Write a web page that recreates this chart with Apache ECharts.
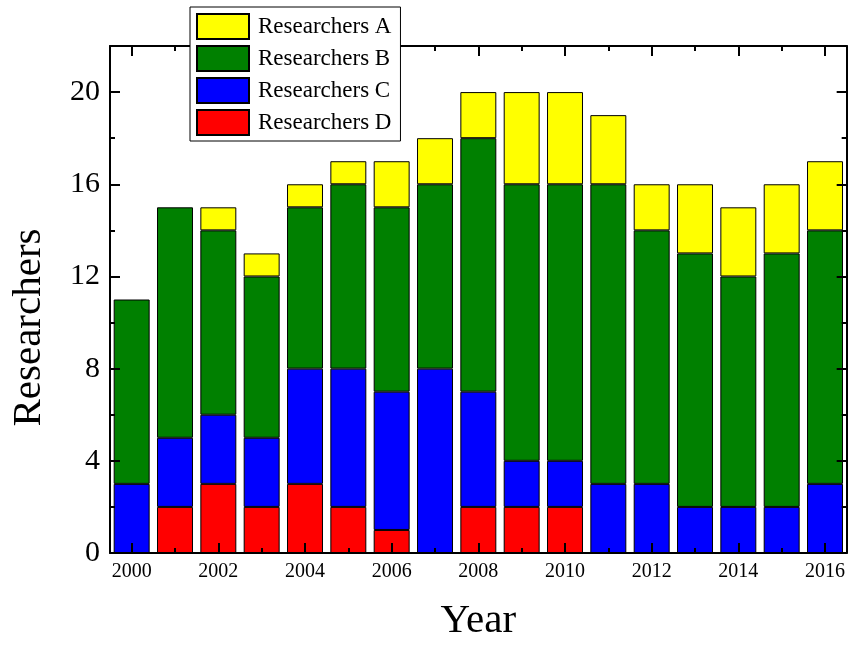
<!DOCTYPE html>
<html>
<head>
<meta charset="utf-8">
<script src="https://cdn.jsdelivr.net/npm/echarts@6/dist/echarts.min.js"></script>
<style>
  html, body { margin: 0; padding: 0; background: #fff; overflow: hidden; }
  #chart { width: 848px; height: 647px; }
</style>
</head>
<body>
<div id="chart"></div>
<script>
// Researchers per year, split by group (stacked from D at the bottom up to A)
const years = ['2000','2001','2002','2003','2004','2005','2006','2007','2008',
               '2009','2010','2011','2012','2013','2014','2015','2016'];
const researchersD = [0, 2, 3, 2, 3, 2, 1, 0, 2, 2, 2, 0, 0, 0, 0, 0, 0];
const researchersC = [3, 3, 3, 3, 5, 6, 6, 8, 5, 2, 2, 3, 3, 2, 2, 2, 3];
const researchersB = [8, 10, 8, 7, 7, 8, 8, 8, 11, 12, 12, 13, 11, 11, 10, 11, 11];
const researchersA = [0, 0, 1, 1, 1, 1, 2, 2, 2, 4, 4, 3, 2, 3, 3, 3, 3];
const legendOrder = ['Researchers A', 'Researchers B', 'Researchers C', 'Researchers D'];

const FONT = "'Liberation Serif', 'Times New Roman', serif";
const LINE = { color: '#000', width: 2 };

function catAxis(pos, major, withLabels) {
  return {
    type: 'category', position: pos, data: years, z: 5,
    boundaryGap: true,
    axisLine: { show: major, lineStyle: LINE, onZero: false },
    axisTick: {
      show: true, inside: true, alignWithLabel: true,
      length: major ? 10 : 5,
      interval: major ? 1 : 0,
      lineStyle: { color: '#000', width: 2 }
    },
    axisLabel: withLabels
      ? { show: true, interval: 1, fontFamily: FONT, fontSize: 20, color: '#000', margin: 9 }
      : { show: false },
    splitLine: { show: false }
  };
}

function valAxis(pos, major, withLabels) {
  return {
    type: 'value', position: pos, min: 0, max: 22, interval: major ? 4 : 2, z: 5,
    axisLine: { show: major, lineStyle: LINE, onZero: false },
    axisTick: { show: true, inside: true, length: major ? 10 : 5,
                lineStyle: { color: '#000', width: 2 } },
    axisLabel: withLabels
      ? { show: true, showMaxLabel: false, fontFamily: FONT, fontSize: 30, color: '#000', margin: 10 }
      : { show: false },
    splitLine: { show: false }
  };
}

const xBottom = catAxis('bottom', true, true);
xBottom.name = 'Year';
xBottom.nameLocation = 'middle';
xBottom.nameGap = 48;
xBottom.nameTextStyle = { fontFamily: FONT, fontSize: 41, color: '#000' };

const yLeft = valAxis('left', true, true);
yLeft.name = 'Researchers';
yLeft.nameLocation = 'middle';
yLeft.nameGap = 60;
yLeft.nameTextStyle = { fontFamily: FONT, fontSize: 41, color: '#000', padding: [0, 56, 0, 0] };

// Empty segments are left out so no zero-height outlines get drawn
function barSeries(name, values, color) {
  return {
    name, type: 'bar', stack: 'total',
    data: values.map(v => (v === 0 ? null : v)),
    xAxisIndex: 0, yAxisIndex: 0,
    barCategoryGap: '17%',
    itemStyle: { color, borderColor: '#000', borderWidth: 1 },
    emphasis: { disabled: true }
  };
}

const chart = echarts.init(document.getElementById('chart'), null, { renderer: 'canvas' });
chart.setOption({
  animation: false,
  backgroundColor: '#fff',
  grid: { left: 110, width: 737, top: 46, height: 519, containLabel: false },
  legend: {
    data: legendOrder,
    orient: 'vertical',
    left: 190, top: 7,
    z: 20,
    backgroundColor: '#fff',
    borderColor: '#000', borderWidth: 1,
    padding: [6, 9, 5, 6],
    itemWidth: 52, itemHeight: 25, itemGap: 5,
    icon: 'rect',
    selectedMode: false,
    textStyle: { fontFamily: FONT, fontSize: 23, color: '#000', padding: [0, 0, 0, 4] }
  },
  xAxis: [
    xBottom,
    catAxis('bottom', false, false),
    catAxis('top', true, false),
    catAxis('top', false, false)
  ],
  yAxis: [
    yLeft,
    valAxis('left', false, false),
    valAxis('right', true, false),
    valAxis('right', false, false)
  ],
  series: [
    barSeries('Researchers D', researchersD, '#FF0000'),
    barSeries('Researchers C', researchersC, '#0000FF'),
    barSeries('Researchers B', researchersB, '#008000'),
    barSeries('Researchers A', researchersA, '#FFFF00')
  ]
});
</script>
</body>
</html>
